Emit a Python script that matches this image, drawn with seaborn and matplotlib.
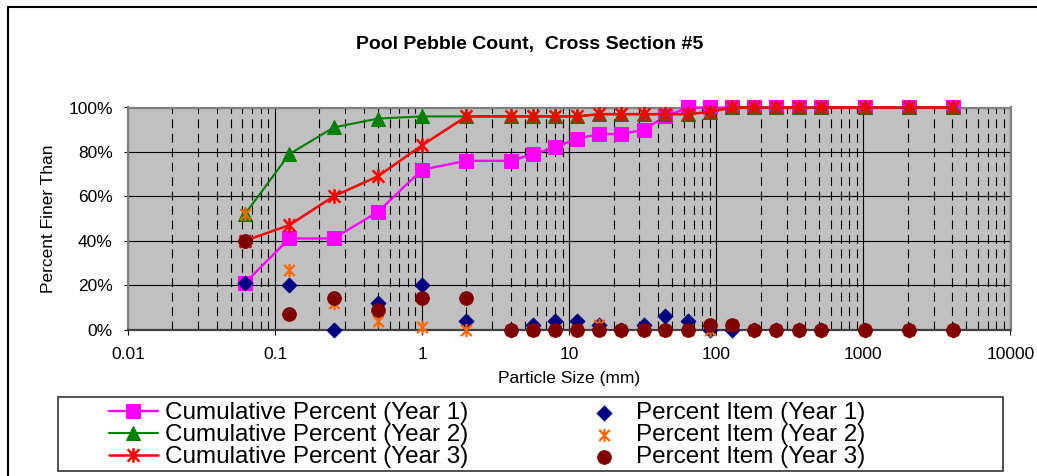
import numpy as np
import pandas as pd
import matplotlib
matplotlib.use("Agg")
import matplotlib.pyplot as plt
import seaborn as sns
from matplotlib.path import Path
from matplotlib.ticker import LogLocator, FixedLocator, PercentFormatter, FuncFormatter
from matplotlib.patches import Rectangle

# ---------------- data ----------------
sizes = [0.0625, 0.125, 0.25, 0.5, 1, 2, 4, 5.7, 8, 11.3, 16, 22.6, 32, 45, 64, 90,
         128, 180, 256, 362, 512, 1024, 2048, 4096]
cum_year1 = [21, 41, 41, 53, 72, 76, 76, 79, 82, 86, 88, 88, 90, 96, 100, 100,
             100, 100, 100, 100, 100, 100, 100, 100]
cum_year2 = [52, 79, 91, 95, 96, 96, 96, 96, 96, 96, 97, 97, 97, 97, 97, 98,
             100, 100, 100, 100, 100, 100, 100, 100]
cum_year3 = [40, 47, 60, 69, 83, 96, 96, 96, 96, 96, 97, 97, 97, 97, 97, 98,
             100, 100, 100, 100, 100, 100, 100, 100]
pct_year1 = [21, 20, 0, 12, 20, 4, 0, 2, 4, 4, 2, 0, 2, 6, 4, 0,
             0, 0, 0, 0, 0, 0, 0, 0]
pct_year2 = [52, 27, 12, 4, 1, 0, 0, 0, 0, 0, 2, 0, 0, 0, 0, 0,
             2, 0, 0, 0, 0, 0, 0, 0]
pct_year3 = [40, 7, 14, 9, 14, 14, 0, 0, 0, 0, 0, 0, 0, 0, 0, 2,
             2, 0, 0, 0, 0, 0, 0, 0]
x_tick_values = [0.01, 0.1, 1, 10, 100, 1000, 10000]
x_tick_labels = ["0.01", "0.1", "1", "10", "100", "1000", "10000"]
y_tick_values = [0, 20, 40, 60, 80, 100]

title = "Pool Pebble Count,  Cross Section #5"
xlabel = "Particle Size (mm)"
ylabel = "Percent Finer Than"
labels_cum = ["Cumulative Percent (Year 1)", "Cumulative Percent (Year 2)", "Cumulative Percent (Year 3)"]
labels_pct = ["Percent Item (Year 1)", "Percent Item (Year 2)", "Percent Item (Year 3)"]

# ---------------- style ----------------
sns.set_theme(style="white")
plt.rcParams["font.family"] = ["Liberation Sans", "DejaVu Sans"]

W, H = 1037, 476
fig = plt.figure(figsize=(W / 100, H / 100), dpi=100)
fig.patch.set_facecolor("white")
ax = fig.add_axes([128 / W, 1 - 329.5 / H, (1010.5 - 128) / W, (329.5 - 107.5) / H])
ax.set_facecolor("#C0C0C0")
ax.set_xscale("log")

# star marker (x with vertical bar), as drawn by Excel
star = Path([(0, -1), (0, 1), (-0.8, -0.85), (0.8, 0.85), (-0.8, 0.85), (0.8, -0.85)],
            [Path.MOVETO, Path.LINETO, Path.MOVETO, Path.LINETO, Path.MOVETO, Path.LINETO])

df = pd.DataFrame({"size": sizes,
                   "cum1": cum_year1, "cum2": cum_year2, "cum3": cum_year3,
                   "pct1": pct_year1, "pct2": pct_year2, "pct3": pct_year3})

MAG, GRN, RED = "#FF00FF", "#008000", "#FF0000"
NAVY, ORG, MAR = "#000080", "#FF6600", "#800000"

sns.lineplot(data=df, x="size", y="cum1", ax=ax, color=MAG, lw=1.7, marker="s",
             markersize=9.5, markeredgecolor=MAG, markerfacecolor=MAG, label=labels_cum[0],
             clip_on=False, zorder=3, sort=False)
sns.lineplot(data=df, x="size", y="cum2", ax=ax, color=GRN, lw=1.5, marker="^",
             markersize=9.5, markeredgecolor=GRN, markerfacecolor=GRN, label=labels_cum[1],
             clip_on=False, zorder=4, sort=False)
sns.lineplot(data=df, x="size", y="cum3", ax=ax, color=RED, lw=1.8, marker=star,
             markersize=10.5, markeredgecolor=RED, markeredgewidth=1.8, label=labels_cum[2],
             clip_on=False, zorder=5, sort=False)

sns.scatterplot(data=df, x="size", y="pct1", ax=ax, marker="D", s=60, color=NAVY,
                edgecolor=NAVY, linewidth=0.5, label=labels_pct[0], clip_on=False, zorder=6)
sns.scatterplot(data=df, x="size", y="pct2", ax=ax, marker=star, s=90, color=ORG,
                edgecolor=ORG, linewidth=1.6, label=labels_pct[1], clip_on=False, zorder=7)
sns.scatterplot(data=df, x="size", y="pct3", ax=ax, marker="o", s=100, color=MAR,
                edgecolor=MAR, linewidth=0.5, label=labels_pct[2], clip_on=False, zorder=8)

# ---------------- axes ----------------
ax.set_xlim(0.01, 10000)
ax.set_ylim(0, 100)
ax.xaxis.set_major_locator(FixedLocator(x_tick_values))
ax.xaxis.set_major_formatter(FuncFormatter(lambda v, p: x_tick_labels[x_tick_values.index(v)]
                                           if v in x_tick_values else ""))
ax.xaxis.set_minor_locator(LogLocator(base=10, subs=np.arange(2, 10), numticks=20))
ax.yaxis.set_major_locator(FixedLocator(y_tick_values))
ax.yaxis.set_major_formatter(PercentFormatter(100, decimals=0))

ax.set_axisbelow(True)
ax.grid(which="major", axis="both", color="black", lw=0.8, ls="-")
ax.grid(which="minor", axis="x", color="black", lw=0.8, ls=(0, (8, 5)))

ax.tick_params(axis="x", which="major", direction="out", length=3.6, width=0.8,
               pad=9, labelsize=12.5, colors="black", bottom=True)
ax.tick_params(axis="x", which="minor", length=0)
ax.tick_params(axis="y", which="major", direction="out", length=3, width=0.8,
               pad=8, labelsize=12.5, colors="black", left=True)

for side in ["top", "right", "left"]:
    ax.spines[side].set_color("#808080")
    ax.spines[side].set_linewidth(1.6)
ax.spines["bottom"].set_color("#404040")
ax.spines["bottom"].set_linewidth(1.6)

ax.set_xlabel(xlabel, fontsize=12.5, color="black")
ax.set_ylabel(ylabel, fontsize=12.5, color="black")
ax.xaxis.set_label_coords(0.5, -0.185)
ax.yaxis.set_label_coords(-0.082, 0.5)

fig.text(530 / W, 1 - 45 / H, title, ha="center", va="center",
         fontsize=14, fontweight="bold", color="black")

# ---------------- legend ----------------
handles, labs = ax.get_legend_handles_labels()
leg = ax.legend(handles, labs, ncol=2, frameon=False, loc="upper left",
                bbox_to_anchor=(109 / W, 1 - 402 / H), bbox_transform=fig.transFigure,
                fontsize=17.5, borderpad=0, borderaxespad=0, labelspacing=0.0,
                handlelength=2.0, handletextpad=0.3, columnspacing=4.6,
                markerscale=1.0)
for t in leg.get_texts():
    t.set_color("black")

fig.patches.append(Rectangle((58 / W, 1 - 471 / H), (1003 - 58) / W, (471 - 397) / H,
                             transform=fig.transFigure, fill=False, edgecolor="#333333",
                             lw=1.2, zorder=1))
fig.patches.append(Rectangle((7.5 / W, -0.2), 1.2, 0.2 + (1 - 7.3 / H),
                             transform=fig.transFigure, fill=False, edgecolor="black",
                             lw=1.5, zorder=1, clip_on=False))

fig.savefig("out.png", dpi=100, facecolor="white")
